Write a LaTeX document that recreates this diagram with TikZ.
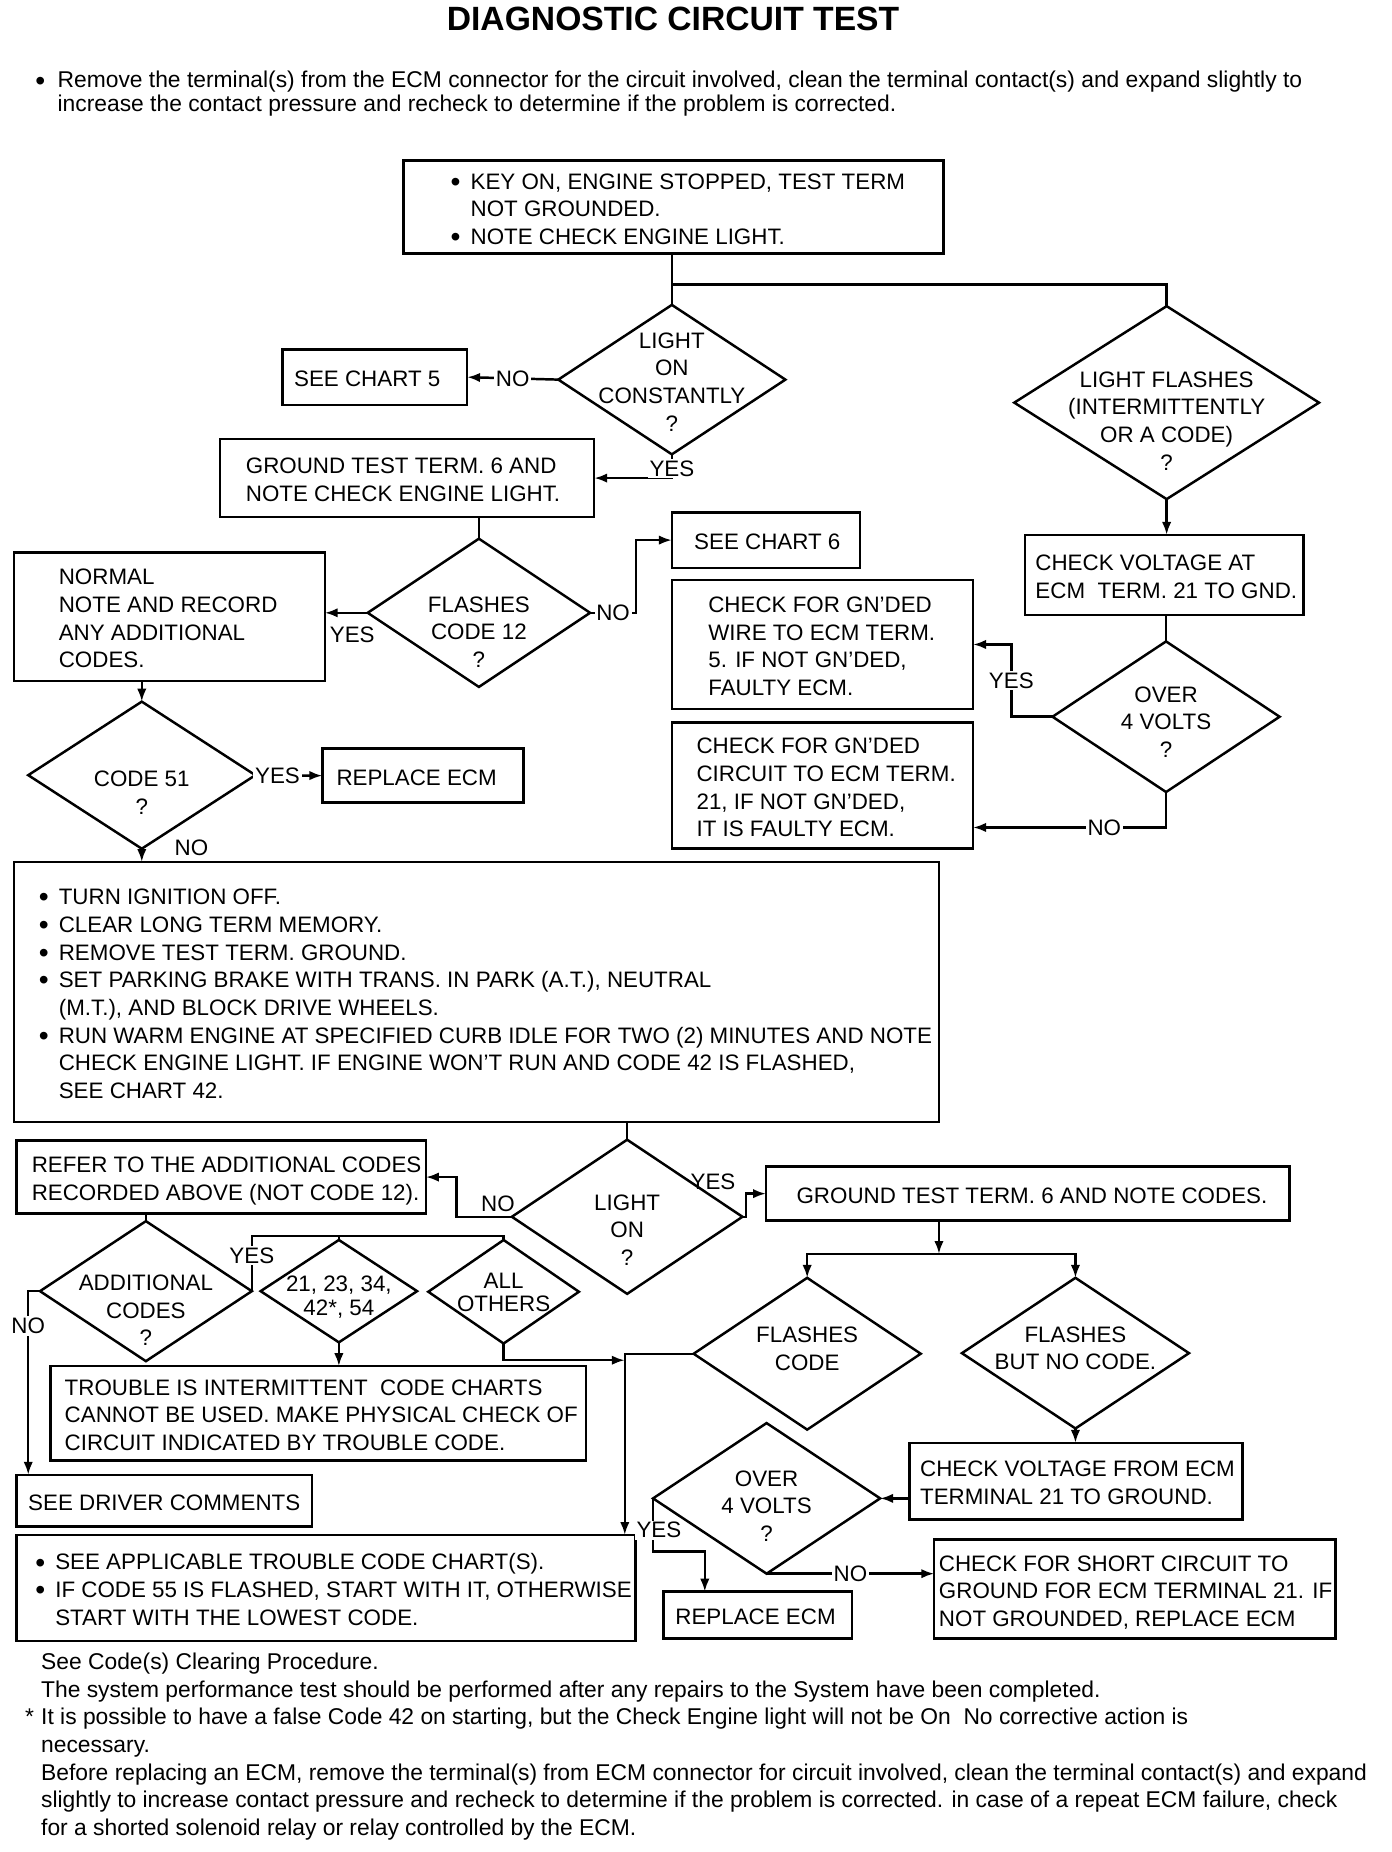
\documentclass[tikz,border=0pt]{standalone}
\usepackage{fontspec}
\setmainfont{Liberation Sans}
\usetikzlibrary{shapes.geometric,arrows.meta,calc}
\newcommand\bx[3]{\hbox to #1{\hspace*{#2}\raisebox{-3.5pt}[\height][\depth]{\begin{tabular}{@{}l@{}}#3\end{tabular}}\hss}}
\newcommand\dtx[2]{\makebox[0pt]{\raisebox{-#1}[0pt][0pt]{\begin{tabular}[b]{@{}c@{}}#2\end{tabular}}}}
\newcommand\bul{\makebox[17pt][l]{\raisebox{-1.8pt}{\fontsize{24}{24}\selectfont\textbullet}}}
\newcommand\ind{\hspace*{17pt}}
\begin{document}
\begin{tikzpicture}[x=1pt,y=-1.0035pt,
  every node/.style={font=\fontsize{19}{23.5}\selectfont, inner sep=0pt, outer sep=0pt},
  box/.style={draw, line width=2.1pt, rectangle, anchor=north west},
  dia/.style={draw, line width=2.1pt, diamond, inner sep=0pt},
  ln/.style={line width=2.1pt},
  arr/.style={ln, -{Latex[length=11pt,width=8pt]}},
  lbl/.style={fill=white, inner sep=1.5pt},
  lblp/.style={inner sep=1pt}]
\fill[white] (0,0) rectangle (1183,1568.5);
\useasboundingbox (0,0) rectangle (1183,1568.5);

% title and intro
\node (title) at (572,16) {\fontsize{28.6}{30}\selectfont\bfseries DIAGNOSTIC CIRCUIT TEST};
\node[anchor=base west, font=\fontsize{19.4}{23.5}\selectfont] (intro) at (30,74.5) {\begin{tabular}[t]{@{}l@{}}\makebox[19pt][l]{\raisebox{-1.8pt}{\fontsize{24}{24}\selectfont\textbullet}}Remove the terminal(s) from the ECM connector for the circuit involved, clean the terminal contact(s) and expand slightly to\\[-3.5pt]\hspace*{19pt}increase the contact pressure and recheck to determine if the problem is corrected.\end{tabular}};

% upper part
\node[box, minimum width=459pt, minimum height=79pt] (b1) at (343,136) {\bx{459pt}{40pt}{\bul KEY ON, ENGINE STOPPED, TEST TERM\\ \ind NOT GROUNDED.\\ \bul NOTE CHECK ENGINE LIGHT.}};
\node[dia, minimum width=193pt, minimum height=127pt] (d1) at (571,321.5) {\dtx{43.75pt}{LIGHT\\ON\\CONSTANTLY\\?}};
\node[box, minimum width=157pt, minimum height=47pt] (sc5) at (240,296) {\bx{157pt}{10pt}{SEE CHART 5}};
\node[box, minimum width=318pt, minimum height=66pt] (g1) at (187,372) {\bx{318pt}{22pt}{GROUND TEST TERM. 6 AND\\NOTE CHECK ENGINE LIGHT.}};
\node[dia, minimum width=259pt, minimum height=164pt] (d4) at (991.5,341) {\dtx{57.25pt}{LIGHT FLASHES\\(INTERMITTENTLY\\OR A CODE)\\?}};
\node[box, minimum width=237pt, minimum height=68pt] (cv1) at (871,453) {\bx{237pt}{9pt}{CHECK VOLTAGE AT\\ECM\ \ TERM. 21 TO GND.}};
\node[box, minimum width=160pt, minimum height=47pt] (sc6) at (571,434) {\bx{160pt}{19pt}{SEE CHART 6}};
\node[box, minimum width=256pt, minimum height=110pt] (ck1) at (571,491) {\bx{256pt}{31pt}{CHECK FOR GN'DED\\WIRE TO ECM TERM.\\5. IF NOT GN'DED,\\FAULTY ECM.}};
\node[dia, minimum width=193pt, minimum height=128pt] (d5) at (991,607) {\dtx{34.5pt}{OVER\\4 VOLTS\\?}};
\node[box, minimum width=256pt, minimum height=107pt] (ck2) at (571,612) {\bx{256pt}{21pt}{CHECK FOR GN'DED\\CIRCUIT TO ECM TERM.\\21, IF NOT GN'DED,\\IT IS FAULTY ECM.}};
\node[box, minimum width=264pt, minimum height=109pt] (normal) at (12,468) {\bx{264pt}{38pt}{NORMAL\\NOTE AND RECORD\\ANY ADDITIONAL\\CODES.}};
\node[dia, minimum width=189pt, minimum height=126pt] (d2) at (407,519) {\dtx{46.5pt}{FLASHES\\CODE 12\\?}};
\node[dia, minimum width=193pt, minimum height=125pt] (d3) at (120.5,656.5) {\dtx{33.25pt}{CODE 51\\?}};
\node[box, minimum width=171pt, minimum height=46pt] (re1) at (274,634) {\bx{171pt}{12pt}{REPLACE ECM}};
\node[box, minimum width=786pt, minimum height=221pt] (b2) at (12,730) {\bx{786pt}{21pt}{\bul TURN IGNITION OFF.\\ \bul CLEAR LONG TERM MEMORY.\\ \bul REMOVE TEST TERM. GROUND.\\ \bul SET PARKING BRAKE WITH TRANS. IN PARK (A.T.), NEUTRAL\\ \ind (M.T.), AND BLOCK DRIVE WHEELS.\\ \bul RUN WARM ENGINE AT SPECIFIED CURB IDLE FOR TWO (2) MINUTES AND NOTE\\ \ind CHECK ENGINE LIGHT. IF ENGINE WON'T RUN AND CODE 42 IS FLASHED,\\ \ind SEE CHART 42.}};

% lower part
\node[dia, minimum width=196pt, minimum height=131pt] (d6) at (533,1030.5) {\dtx{41.5pt}{LIGHT\\ON\\?}};
\node[box, minimum width=348pt, minimum height=62pt] (ref) at (14,966) {\bx{348pt}{13pt}{REFER TO THE ADDITIONAL CODES\\RECORDED ABOVE (NOT CODE 12).}};
\node[box, minimum width=445pt, minimum height=46pt] (gt2) at (651,988) {\bx{445pt}{26pt}{GROUND TEST TERM. 6 AND NOTE CODES.}};
\node[dia, minimum width=193pt, minimum height=129pt] (d7) at (686,1146.5) {\dtx{14.25pt}{FLASHES\\CODE}};
\node[dia, minimum width=193pt, minimum height=128pt] (d8) at (914,1146) {\dtx{14.25pt}{FLASHES\\BUT NO CODE.}};
\node[dia, minimum width=180pt, minimum height=119pt] (d10) at (124,1093.5) {\dtx{46.5pt}{ADDITIONAL\\CODES\\?}};
\node[dia, minimum width=133pt, minimum height=87pt] (d11) at (288,1093.5) {\dtx{21pt}{21, 23, 34,\\[-2.5pt]42*, 54}};
\node[dia, minimum width=128pt, minimum height=88pt] (d12) at (428,1094) {\dtx{17pt}{ALL\\[-3.5pt]OTHERS}};
\node[box, minimum width=455pt, minimum height=80pt] (ti) at (43,1157) {\bx{455pt}{12pt}{TROUBLE IS INTERMITTENT\ \ CODE CHARTS\\CANNOT BE USED. MAKE PHYSICAL CHECK OF\\CIRCUIT INDICATED BY TROUBLE CODE.}};
\node[box, minimum width=251pt, minimum height=44pt] (sdc) at (14,1249) {\bx{251pt}{10pt}{SEE DRIVER COMMENTS}};
\node[box, minimum width=526pt, minimum height=90pt] (b3) at (14,1300) {\bx{526pt}{16pt}{\bul SEE APPLICABLE TROUBLE CODE CHART(S).\\ \bul IF CODE 55 IS FLASHED, START WITH IT, OTHERWISE\\ \ind START WITH THE LOWEST CODE.}};
\node[box, minimum width=283pt, minimum height=65pt] (cv2) at (773,1222) {\bx{283pt}{9pt}{CHECK VOLTAGE FROM ECM\\TERMINAL 21 TO GROUND.}};
\node[dia, minimum width=193pt, minimum height=128pt] (d9) at (651.5,1269) {\dtx{36.5pt}{OVER\\4 VOLTS\\?}};
\node[box, minimum width=160pt, minimum height=40pt] (re2) at (564,1348) {\bx{160pt}{10pt}{REPLACE ECM}};
\node[box, minimum width=341pt, minimum height=84pt] (sc) at (794,1304) {\bx{341pt}{4pt}{CHECK FOR SHORT CIRCUIT TO\\GROUND FOR ECM TERMINAL 21. IF\\NOT GROUNDED, REPLACE ECM}};

% notes
\node[anchor=base west, font=\fontsize{19.4}{23.5}\selectfont] (notes) at (35,1414) {\begin{tabular}[t]{@{}l@{}}See Code(s) Clearing Procedure.\\
The system performance test should be performed after any repairs to the System have been completed.\\
\llap{*\hspace{6pt}}It is possible to have a false Code 42 on starting, but the Check Engine light will not be On\ \ No corrective action is\\
necessary.\\
Before replacing an ECM, remove the terminal(s) from ECM connector for circuit involved, clean the terminal contact(s) and expand\\
slightly to increase contact pressure and recheck to determine if the problem is corrected. in case of a repeat ECM failure, check\\
for a shorted solenoid relay or relay controlled by the ECM.\end{tabular}};

% connectors upper
\coordinate (j1) at (571,241);
\draw[ln] (d1.north |- b1.south) -- (d1.north);
\draw[ln] (j1) -| (d4.north);
\draw[arr] (d1.west) -- node[lbl]{NO} (sc5.east);
\draw[arr] (d1.south) |- node[lbl,pos=0.3]{YES} (g1.east);
\draw[ln] (d2.north |- g1.south) -- (d2.north);
\draw[arr] (d2.west) -- node[lblp, pos=0.36, below=11pt]{YES} (d2.west -| normal.east);
\draw[arr] (d2.east) -- node[lbl]{NO} ++(39,0) |- (sc6.west);
\draw[arr] (d3.north |- normal.south) -- (d3.north);
\draw[arr] (d3.east) -- node[lbl,pos=0.33]{YES} (re1.west);
\draw[arr] (d3.south) -- node[lblp, pos=0.5, anchor=west, xshift=27pt, yshift=6pt]{NO} (d3.south |- b2.north);
\draw[arr] (d4.south) -- (d4.south |- cv1.north);
\draw[ln] (d5.north |- cv1.south) -- (d5.north);
\draw[arr] (d5.west) -- ++(-35,0) |- node[lbl,pos=0.25]{YES} (ck1.east);
\draw[arr] (d5.south) -- ++(0,30) coordinate (n5) -- node[lbl,pos=0.32]{NO} (n5 -| ck2.east);

% connectors lower
\draw[ln] (d6.north |- b2.south) -- (d6.north);
\draw[arr] (d6.west) -- node[lblp,pos=0.25,above=3pt]{NO} ++(-47,0) |- (ref.east);
\draw[arr] (d6.east) -- ++(3,0) node[lblp, anchor=south east, xshift=-8pt, yshift=22pt]{YES} |- (gt2.west);
\coordinate (j2) at (798,1062);
\draw[arr] (j2 |- gt2.south) -- (j2);
\draw[arr] (j2) -| (d7.north);
\draw[arr] (j2) -| (d8.north);
\draw[arr] (d7.west) -| ([xshift=-9pt]b3.north east);
\coordinate (jb) at (531,1152);
\draw[arr] (d12.south) |- (jb);
\draw[arr] (d8.south) -- (d8.south |- cv2.north);
\draw[arr] (d9.east -| cv2.west) -- (d9.east);
\draw[arr] (d9.west) -- node[lbl,pos=0.6,xshift=5pt]{YES} ++(0,45) -| ([xshift=-45pt]re2.north);
\draw[arr] (d9.south) -- node[lbl]{NO} (d9.south -| sc.west);
\draw[ln] (d10.north |- ref.south) -- (d10.north);
\draw[arr] (d10.west) -- ++(-10,0) coordinate (n10) -- node[lbl,pos=0.19]{NO} (n10 |- sdc.north);
\coordinate (jy2) at (0,1047);
\draw[ln] (d10.east) -- node[lbl,pos=0.65]{YES} (d10.east |- jy2) -| (d12.north);
\draw[ln] (d11.north |- jy2) -- (d11.north);
\draw[arr] (d11.south) -- (d11.south |- ti.north);
\end{tikzpicture}
\end{document}
